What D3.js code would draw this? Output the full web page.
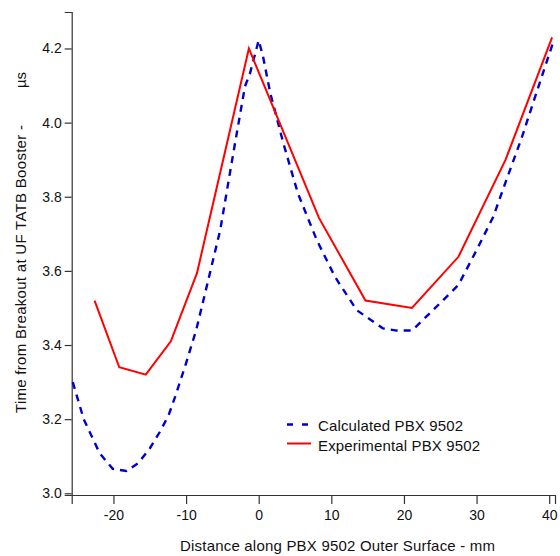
<!DOCTYPE html>
<html lang="en">
<head>
<meta charset="UTF-8">
<title>PBX 9502 breakout</title>
<script src="https://d3js.org/d3.v7.min.js"></script>
<style>
  body { margin: 0; background: #fff; }
  svg text { font-family: "Liberation Sans", Arial, sans-serif; fill: #111; }
</style>
</head>
<body>
<div class="canvas"></div>
<script>
// calculated curve (blue dashed)
const calcX = [-25.6, -24.1, -21.9, -20.1, -18.2, -16.6, -15.0, -13.6, -12.4, -11.5, -10.0, -8.6, -7.5, -5.3, -3.5, -1.9, -1.2, 0.0, 0.6, 1.6, 3.4, 5.4, 8.0, 10.5, 13.5, 17.1, 19.0, 21.1, 24.0, 27.5, 30.0, 32.3, 34.1, 36.2, 38.0, 40.6];
const calcY = [3.30, 3.20, 3.108, 3.066, 3.06, 3.081, 3.121, 3.166, 3.211, 3.261, 3.351, 3.441, 3.53, 3.71, 3.917, 4.097, 4.133, 4.222, 4.178, 4.079, 3.944, 3.809, 3.683, 3.584, 3.494, 3.445, 3.439, 3.439, 3.494, 3.562, 3.656, 3.746, 3.845, 3.958, 4.066, 4.22];

// experimental (red solid)
const expX = [-22.6, -19.2, -15.55, -12.1, -8.5, -1.35, 8.3, 14.7, 21.1, 27.5, 34.0, 40.4];
const expY = [3.52, 3.34, 3.32, 3.41, 3.594, 4.20, 3.743, 3.52, 3.50, 3.638, 3.90, 4.23];

const xTicks = [-20, -10, 0, 10, 20, 30, 40];
const yTicks = [3.0, 3.2, 3.4, 3.6, 3.8, 4.0, 4.2];

const seriesNames = ['Calculated PBX 9502', 'Experimental PBX 9502'];

const width = 560, height = 556;
const svg = d3.select('.canvas').append('svg')
  .attr('width', width).attr('height', height);

const x = d3.scaleLinear().domain([-25.75, 40.8]).range([71.7, 555]);
const y = d3.scaleLinear().domain([2.9954, 4.2984]).range([495, 12]);

const xAxisG = svg.append('g').attr('transform', 'translate(0,495)')
  .call(d3.axisBottom(x).tickValues(xTicks).tickSize(9).tickPadding(6).tickFormat(d3.format('d')));
const yAxisG = svg.append('g').attr('transform', 'translate(71.7,0)')
  .call(d3.axisLeft(y).tickValues(yTicks).tickSize(7).tickPadding(3).tickFormat(d3.format('.1f')));

[xAxisG, yAxisG].forEach(g => {
  g.select('.domain').attr('stroke', '#333').attr('stroke-width', 1.2);
  g.selectAll('.tick line').attr('stroke', '#333').attr('stroke-width', 1.2);
  g.selectAll('.tick text').style('font-size', '14px').style('font-family', '"Liberation Sans", Arial, sans-serif').attr('fill', '#111');
});
// minus sign as plain hyphen like the original
xAxisG.selectAll('.tick text').text(d => String(d));

const line = d3.line().x(d => x(d[0])).y(d => y(d[1]));

svg.append('path')
  .datum(d3.zip(calcX, calcY))
  .attr('d', line)
  .attr('fill', 'none')
  .attr('stroke', '#0000cc')
  .attr('stroke-width', 2.4)
  .attr('stroke-dasharray', '7,6');

svg.append('path')
  .datum(d3.zip(expX, expY))
  .attr('d', line)
  .attr('fill', 'none')
  .attr('stroke', '#ff0000')
  .attr('stroke-width', 2);

// axis titles
svg.append('text')
  .attr('x', 180).attr('y', 551)
  .attr('textLength', 315).attr('lengthAdjust', 'spacing')
  .style('font-size', '15px')
  .text('Distance along PBX 9502 Outer Surface - mm');

svg.append('text')
  .attr('transform', 'translate(26,413) rotate(-90)')
  .attr('textLength', 288).attr('lengthAdjust', 'spacing')
  .style('font-size', '15px')
  .text('Time from Breakout at UF TATB Booster -');

svg.append('text')
  .attr('transform', 'translate(26,80) rotate(-90)')
  .attr('text-anchor', 'middle')
  .style('font-size', '15px')
  .text('\u00b5s');

// legend
const legend = svg.append('g');
legend.append('line')
  .attr('x1', 287).attr('x2', 308).attr('y1', 424.5).attr('y2', 424.5)
  .attr('stroke', '#0000cc').attr('stroke-width', 2.4).attr('stroke-dasharray', '6,9');
legend.append('line')
  .attr('x1', 287).attr('x2', 311).attr('y1', 443.5).attr('y2', 443.5)
  .attr('stroke', '#ff0000').attr('stroke-width', 2);
const legendLen = [145, 162];
legend.selectAll('text.lg').data(seriesNames).enter().append('text')
  .attr('class', 'lg')
  .attr('x', 318).attr('y', (d, i) => 431 + i * 20)
  .attr('textLength', (d, i) => legendLen[i]).attr('lengthAdjust', 'spacing')
  .style('font-size', '15px')
  .text(d => d);
</script>
</body>
</html>
